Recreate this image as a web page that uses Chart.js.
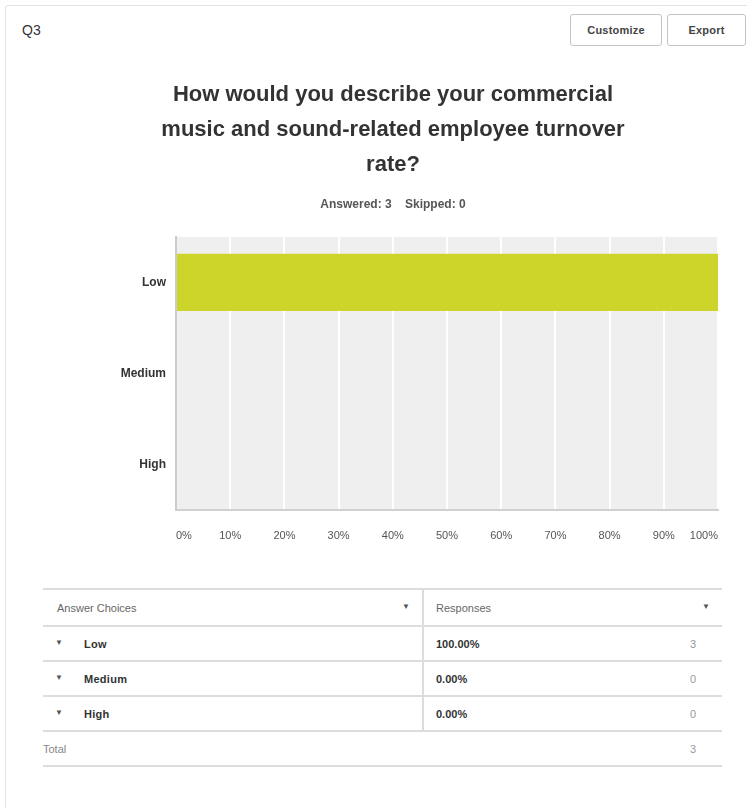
<!DOCTYPE html>
<html>
<head>
<meta charset="utf-8">
<script src="https://cdn.jsdelivr.net/npm/chart.js@4/dist/chart.umd.min.js"></script>
<style>
  html, body { margin: 0; padding: 0; background: #fff; }
  body { width: 747px; height: 808px; position: relative; overflow: hidden;
         font-family: "Liberation Sans", Arial, sans-serif; color: #333; }
  .card { position: absolute; left: 5px; top: 5px; width: 760px; height: 820px;
          border: 1px solid #e2e2e2; border-radius: 3px; }
  .qnum { position: absolute; left: 22px; top: 22px; font-size: 14px; color: #333; }
  .btn { position: absolute; top: 14px; height: 30px; border: 1px solid #c4c4c4; border-radius: 3px;
         font-size: 11px; font-weight: bold; color: #444; line-height: 30px; text-align: center;
         letter-spacing: 0.2px; background: #fff; }
  #chartWrap { position: absolute; left: 48px; top: 60px; width: 690px; height: 503px; }
  table { position: absolute; left: 43px; top: 588px; width: 679px; border-collapse: collapse;
          font-size: 11px; }
  td { height: 33px; border-top: 2px solid #ddd; padding: 0; vertical-align: middle; }
  tr.head td { height: 35px; }
  tr.last td { border-bottom: 2px solid #ddd; }
  .caret { display: inline-block; font-size: 8px; color: #555; position: relative; top: -3px; }
  .choice { font-weight: bold; color: #333; letter-spacing: 0.3px; }
  .hdr { color: #666; }
  .pct { font-weight: bold; color: #333; padding-left: 12px; }
  .cnt { color: #999; text-align: right; padding-right: 26px; }
  .div { border-right: 2px solid #ddd; }
</style>
</head>
<body>
<div class="card"></div>
<div class="qnum">Q3</div>
<div class="btn" style="left:570px;width:90px;">Customize</div>
<div class="btn" style="left:667px;width:77px;">Export</div>
<div id="chartWrap"><canvas id="chart"></canvas></div>
<table id="tbl"></table>

<script>
const titleLines = [
  "How would you describe your commercial",
  "music and sound-related employee turnover",
  "rate?"
];
const answered = 3;
const skipped = 0;
const categories = ["Low", "Medium", "High"];
const percentages = [100, 0, 0];
const counts = [3, 0, 0];
const xTicks = [0, 10, 20, 30, 40, 50, 60, 70, 80, 90, 100];
const barColor = "#cdd42a";

// Grey plot background behind the grid
const plotBackground = {
  id: "plotBackground",
  beforeDraw(chart) {
    const { ctx, chartArea: a } = chart;
    ctx.save();
    ctx.fillStyle = "#efefef";
    ctx.fillRect(a.left, a.top, a.right - a.left, a.bottom - a.top);
    ctx.restore();
  }
};

new Chart(document.getElementById("chart"), {
  type: "bar",
  data: {
    labels: categories,
    datasets: [{
      data: percentages,
      backgroundColor: barColor,
      borderWidth: 0,
      categoryPercentage: 1,
      barPercentage: 0.63
    }]
  },
  plugins: [plotBackground],
  options: {
    indexAxis: "y",
    responsive: true,
    maintainAspectRatio: false,
    animation: false,
    layout: { padding: 0 },
    plugins: {
      legend: { display: false },
      tooltip: { enabled: false },
      title: {
        display: true,
        text: titleLines,
        color: "#333",
        font: { family: "'Liberation Sans', Arial, sans-serif", size: 22, weight: "bold", lineHeight: 1.6 },
        padding: { top: 17, bottom: 13 }
      },
      subtitle: {
        display: true,
        text: "Answered: " + answered + "    Skipped: " + skipped,
        color: "#555",
        font: { family: "'Liberation Sans', Arial, sans-serif", size: 12, weight: "bold", lineHeight: 1.2 },
        padding: { top: 2, bottom: 25 }
      }
    },
    scales: {
      x: {
        min: 0,
        max: 100,
        afterBuildTicks(scale) { scale.ticks = xTicks.map(v => ({ value: v })); },
        grid: { color: "#ffffff", lineWidth: 2, drawTicks: false },
        border: { display: true, color: "#d0d0d0", width: 2 },
        ticks: {
          align: "inner",
          padding: 20,
          color: "#555",
          font: { family: "'Liberation Sans', Arial, sans-serif", size: 11 },
          callback: v => v + "%"
        }
      },
      y: {
        grid: { display: false, drawTicks: false },
        border: { display: true, color: "#cccccc", width: 2 },
        afterFit(scale) { scale.width = 128; },
        ticks: {
          padding: 10,
          color: "#333",
          font: { family: "'Liberation Sans', Arial, sans-serif", size: 12, weight: "bold" }
        }
      }
    }
  }
});

// Response summary table
const tbl = document.getElementById("tbl");
let html = '<tr class="head"><td class="hdr div" style="padding-left:14px;">Answer Choices' +
  '<span class="caret" style="float:right;margin-right:12px;top:0;">&#9660;</span></td>' +
  '<td class="hdr" colspan="2" style="padding-left:12px;">Responses' +
  '<span class="caret" style="float:right;margin-right:12px;top:0;">&#9660;</span></td></tr>';
categories.forEach((c, i) => {
  html += '<tr><td class="div" style="width:367px;padding-left:12px;"><span class="caret">&#9660;</span>' +
    '<span class="choice" style="margin-left:21px;">' + c + '</span></td>' +
    '<td class="pct">' + percentages[i].toFixed(2) + '%</td>' +
    '<td class="cnt">' + counts[i] + '</td></tr>';
});
const total = counts.reduce((a, b) => a + b, 0);
html += '<tr class="last"><td colspan="2" style="color:#888;">Total</td><td class="cnt">' + total + '</td></tr>';
tbl.innerHTML = html;
</script>
</body>
</html>
